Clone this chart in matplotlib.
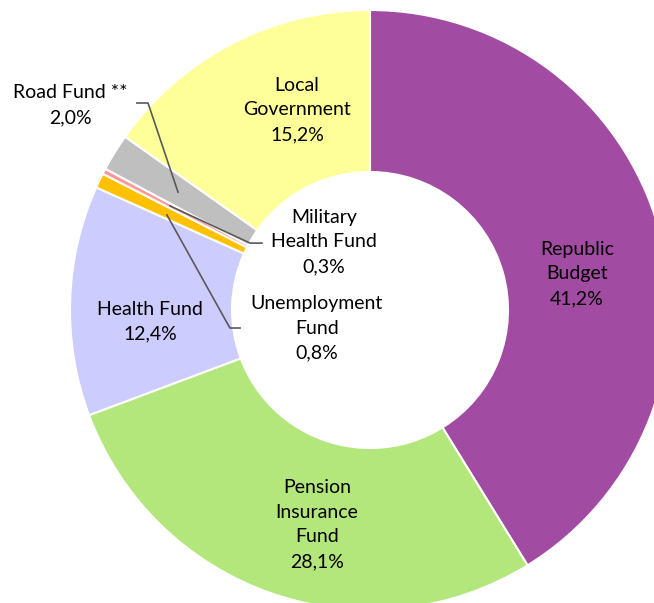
import matplotlib
matplotlib.use('Agg')
import matplotlib.pyplot as plt

plt.rcParams['font.family'] = ['Lato', 'DejaVu Sans']

# budget shares, clockwise from 12 o'clock
labels = ['Republic\nBudget', 'Pension\nInsurance\nFund', 'Health Fund',
          'Unemployment\nFund', 'Military\nHealth Fund', 'Road Fund **',
          'Local\nGovernment']
shares = [41.2, 28.1, 12.4, 0.8, 0.3, 2.0, 15.2]
colors = ['#A24BA2', '#B3E67B', '#CCCCFF', '#FFC000', '#FF9999', '#BFBFBF',
          '#FFFF99']

# label positions (data coords, radius 1 = outer edge)
label_pos = [(0.69, 0.12), (-0.177, -0.715), (-0.733, -0.04), (-0.177, -0.06),
             (-0.153, 0.227), (-1.0, 0.683), (-0.243, 0.667)]

fig = plt.figure(figsize=(6.54, 6.03), dpi=100)
ax = fig.add_axes([70 / 654, -7 / 603, 600 / 654, 600 / 603])

ax.pie(shares, colors=colors, startangle=90, counterclock=False, radius=1,
       wedgeprops=dict(width=0.54, edgecolor='white', linewidth=1.5))

for lab, val, (x, y) in zip(labels, shares, label_pos):
    txt = lab + '\n' + ('%.1f%%' % val).replace('.', ',')
    ax.text(x, y, txt, ha='center', va='center', fontsize=14,
            linespacing=1.55, color='black')

# leader lines for the thin slices
lc = '#595959'
ax.plot([-0.777, -0.74, -0.64], [0.69, 0.69, 0.393], color=lc, lw=1.2)
ax.plot([-0.667, -0.4, -0.36], [0.347, 0.223, 0.223], color=lc, lw=1.2)
ax.plot([-0.677, -0.467, -0.433], [0.317, -0.06, -0.06], color=lc, lw=1.2)

ax.set_xlim(-1, 1)
ax.set_ylim(-1, 1)
ax.set_aspect('equal')
ax.axis('off')

plt.savefig('out.png', dpi=100)
